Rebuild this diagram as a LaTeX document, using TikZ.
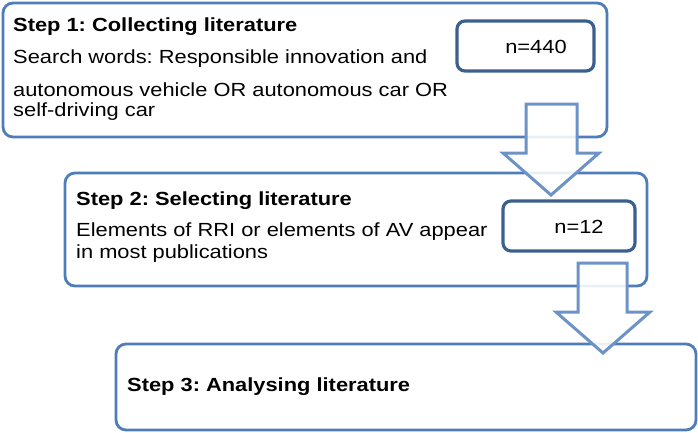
\documentclass[tikz,border=0pt]{standalone}
\usepackage{fontspec}
\setmainfont[FakeStretch=1.15]{Liberation Sans}
\frenchspacing
\begin{document}
\begin{tikzpicture}[x=1pt,y=-1pt,
  stepbox/.style={draw=stepblue,line width=2.8pt,rounded corners=10pt,fill=white},
  countbox/.style={draw=countblue,line width=3.2pt,rounded corners=8pt,fill=white},
  blockarrow/.style={draw=arrowblue,line width=3pt,fill=white,fill opacity=0.88,line join=miter},
  title/.style={anchor=west,font=\fontsize{19}{21}\selectfont\bfseries,inner sep=0pt},
  body/.style={anchor=west,font=\fontsize{19}{21}\selectfont,inner sep=0pt},
  count/.style={font=\fontsize{19}{21}\selectfont,inner sep=0pt}]
\definecolor{stepblue}{RGB}{79,125,185}
\definecolor{countblue}{RGB}{60,96,142}
\definecolor{arrowblue}{RGB}{108,146,200}
\useasboundingbox (0,0) rectangle (698,432);

% step boxes
\draw[stepbox] (3,3) rectangle (607,137);
\draw[stepbox] (65,173) rectangle (647,286);
\draw[stepbox] (116,344) rectangle (696,430);

% count boxes
\draw[countbox] (457,21) rectangle (594,71);
\node[count] (n1) at (536,47) {n=440};
\draw[countbox] (503,201) rectangle (635,251);
\node[count] (n2) at (579,227) {n=12};

% block arrows between steps
\draw[blockarrow] (526,104) -- (577,104) -- (577,153) -- (599,153) -- (551,195)
  -- (503,153) -- (526,153) -- cycle;
\draw[blockarrow] (578,263) -- (627,263) -- (627,312) -- (650,312) -- (603,353)
  -- (556,312) -- (578,312) -- cycle;

% texts
\node[title] (t1) at (13,27) {Step 1: Collecting literature};
\node[body] (b1a) at (13,59) {Search words: Responsible innovation and};
\node[body] (b1b) at (13,90) {autonomous vehicle OR autonomous car OR};
\node[body] (b1c) at (13,112) {self-driving car};

\node[title] (t2) at (76,201) {Step 2: Selecting literature};
\node[body] (b2a) at (76,232) {Elements of RRI or elements of AV appear};
\node[body] (b2b) at (76,254) {in most publications};

\node[title] (t3) at (127,387) {Step 3: Analysing literature};
\end{tikzpicture}
\end{document}
